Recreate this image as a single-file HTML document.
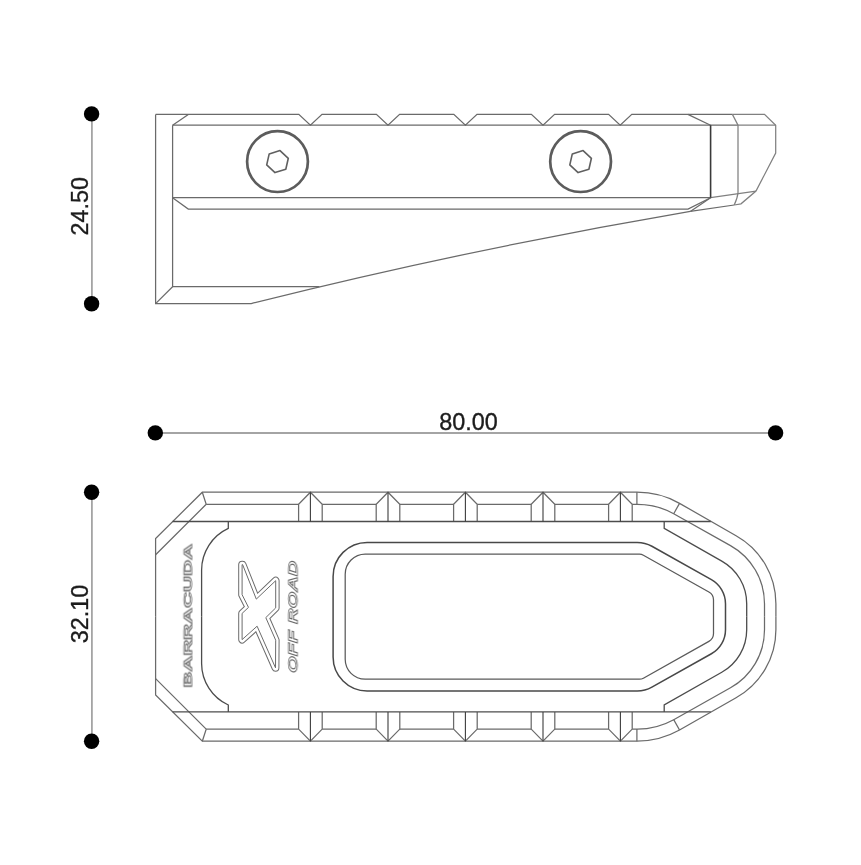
<!DOCTYPE html>
<html><head><meta charset="utf-8"><title>Footpeg drawing</title>
<style>html,body{margin:0;padding:0;background:#fff}svg{display:block}</style></head>
<body><svg width="861" height="865" viewBox="0 0 861 865">
<rect width="861" height="865" fill="#fff"/>
<g fill="none" stroke="#6a6a6a" stroke-width="1.25">
<path d="M155.6,114.4 L298.79999999999995,114.4 L310.4,125.2 L322.0,114.4 L376.4,114.4 L388.0,125.2 L399.6,114.4 L453.79999999999995,114.4 L465.4,125.2 L477.0,114.4 L531.4,114.4 L543.0,125.2 L554.6,114.4 L608.6,114.4 L620.2,125.2 L631.8000000000001,114.4 L732.4,114.4"/>
<path d="M734.2,205.0 L690.3,211.4"/>
<path d="M690.3,211.4 Q467,249.5 251.2,303.6 L155.6,303.6 L155.6,114.4"/>
<path d="M172.6,125.2 L738.0,125.2"/>
<path d="M172.6,125.2 L188.3,114.4"/>
<path d="M172.6,125.2 L172.6,286.7 L155.6,303.6"/>
<path d="M172.6,286.7 L319.4,286.7"/>
<path d="M172.6,197.7 L710.6,197.7"/>
<path d="M172.6,197.7 L188.3,209.0 L688.0,209.0 L710.6,197.7"/>
<path d="M690.3,211.4 L710.6,197.7"/>
<path d="M687.9,114.4 L710.6,125.2"/>
</g>
<g fill="none" stroke="#808080" stroke-width="1.25">
<path d="M732.4,114.4 L764.5,114.4 L775.7,125.2 L775.7,153 L756.0,191.1 L741.0,203.8 L734.2,205.0"/>
<path d="M732.4,114.4 L738.0,125.2 L738.0,192.5 Q737.6,198 734.2,205.0"/>
<path d="M738.0,125.2 L775.7,125.2"/>
<path d="M710.6,197.7 L756.0,191.1"/>
</g>
<path d="M710.6,125.2 L710.6,197.7" stroke="#3a3a3a" stroke-width="1.6" fill="none"/>
<circle cx="277.5" cy="161.6" r="30.4" fill="none" stroke="#5c5c5c" stroke-width="2.7"/>
<polygon points="288.3,158.3 285.8,169.3 275.0,172.6 266.7,164.9 269.2,153.9 280.0,150.6" fill="none" stroke="#606060" stroke-width="1.6" stroke-linejoin="round"/>
<circle cx="580.6" cy="161.6" r="30.4" fill="none" stroke="#5c5c5c" stroke-width="2.7"/>
<polygon points="591.4,158.3 588.9,169.3 578.1,172.6 569.8,164.9 572.3,153.9 583.1,150.6" fill="none" stroke="#606060" stroke-width="1.6" stroke-linejoin="round"/>
<path d="M91.9,113.9 L91.9,303.8 M91.9,492.2 L91.9,741.2 M155.3,433 L775.6,433" stroke="#a4a4a4" stroke-width="1.8" fill="none"/>
<circle cx="91.6" cy="113.9" r="7.7" fill="#000"/>
<circle cx="91.6" cy="303.8" r="7.7" fill="#000"/>
<circle cx="91.6" cy="492.2" r="7.7" fill="#000"/>
<circle cx="91.6" cy="741.2" r="7.7" fill="#000"/>
<circle cx="155.3" cy="432.9" r="7.7" fill="#000"/>
<circle cx="775.6" cy="432.9" r="7.7" fill="#000"/>
<g opacity="0.99">
<text x="468.4" y="429.5" text-anchor="middle" font-family="Liberation Sans, Arial, sans-serif" font-size="23.4" fill="#1a1a1a" stroke="#1a1a1a" stroke-width="0.35">80.00</text>
<text transform="translate(87.8,206.2) rotate(-90)" text-anchor="middle" font-family="Liberation Sans, Arial, sans-serif" font-size="23.4" fill="#1a1a1a" stroke="#1a1a1a" stroke-width="0.35">24.50</text>
<text transform="translate(87.8,614) rotate(-90)" text-anchor="middle" font-family="Liberation Sans, Arial, sans-serif" font-size="23.4" fill="#1a1a1a" stroke="#1a1a1a" stroke-width="0.35">32.10</text>
</g>
<g fill="none" stroke="#6a6a6a" stroke-width="1.25">
<path d="M155.60,616.70 L155.60,538.50 L202.30,492.20 L636.90,492.20 A87.1,87.1 0 0 1 679.53,503.34 L736.07,535.68 A78.0,78.0 0 0 1 775.90,603.70 L775.90,616.70"/>
<path d="M206.20,504.30 L298.60,504.30"/>
<path d="M322.20,504.30 L376.20,504.30"/>
<path d="M399.80,504.30 L453.60,504.30"/>
<path d="M477.20,504.30 L531.20,504.30"/>
<path d="M554.80,504.30 L608.60,504.30"/>
<path d="M632.20,504.30 L636.90,504.30 A75.2,75.2 0 0 1 673.70,513.72 L730.49,545.62 A66.6,66.6 0 0 1 764.50,603.70 L764.50,616.70"/>
<path d="M679.53,503.34 L673.70,513.72"/>
<path d="M636.90,492.20 L636.90,504.30"/>
<path d="M298.60,521.50 L298.60,504.30 L310.40,492.20 L322.20,504.30 L322.20,521.50"/>
<path d="M376.20,521.50 L376.20,504.30 L388.00,492.20 L399.80,504.30 L399.80,521.50"/>
<path d="M453.60,521.50 L453.60,504.30 L465.40,492.20 L477.20,504.30 L477.20,521.50"/>
<path d="M531.20,521.50 L531.20,504.30 L543.00,492.20 L554.80,504.30 L554.80,521.50"/>
<path d="M608.60,521.50 L608.60,504.30 L620.40,492.20 L632.20,504.30 L632.20,521.50"/>
<path d="M202.30,492.20 L206.20,504.30 L155.60,554.80"/>
<path d="M155.60,616.70 L155.60,694.90 L202.30,741.20 L636.90,741.20 A87.1,87.1 0 0 0 679.53,730.06 L736.07,697.72 A78.0,78.0 0 0 0 775.90,629.70 L775.90,616.70"/>
<path d="M206.20,729.10 L298.60,729.10"/>
<path d="M322.20,729.10 L376.20,729.10"/>
<path d="M399.80,729.10 L453.60,729.10"/>
<path d="M477.20,729.10 L531.20,729.10"/>
<path d="M554.80,729.10 L608.60,729.10"/>
<path d="M632.20,729.10 L636.90,729.10 A75.2,75.2 0 0 0 673.70,719.68 L730.49,687.78 A66.6,66.6 0 0 0 764.50,629.70 L764.50,616.70"/>
<path d="M679.53,730.06 L673.70,719.68"/>
<path d="M636.90,741.20 L636.90,729.10"/>
<path d="M298.60,711.90 L298.60,729.10 L310.40,741.20 L322.20,729.10 L322.20,711.90"/>
<path d="M376.20,711.90 L376.20,729.10 L388.00,741.20 L399.80,729.10 L399.80,711.90"/>
<path d="M453.60,711.90 L453.60,729.10 L465.40,741.20 L477.20,729.10 L477.20,711.90"/>
<path d="M531.20,711.90 L531.20,729.10 L543.00,741.20 L554.80,729.10 L554.80,711.90"/>
<path d="M608.60,711.90 L608.60,729.10 L620.40,741.20 L632.20,729.10 L632.20,711.90"/>
<path d="M202.30,741.20 L206.20,729.10 L155.60,678.60"/>
<path d="M365.2,554.2 L639.48,554.20 A8,8 0 0 1 643.39,555.22 L708.90,591.99 A9,9 0 0 1 713.50,599.84 L713.50,633.56 A9,9 0 0 1 708.90,641.41 L643.39,678.18 A8,8 0 0 1 639.48,679.2 L365.2,679.2 A20,20 0 0 1 345.2,659.2 L345.2,574.2 A20,20 0 0 1 365.2,554.2 Z" stroke="#5a5a5a"/>
</g>
<path d="M367.1,542.4 L637.22,542.40 A30,30 0 0 1 651.90,546.24 L711.41,579.63 A27.6,27.6 0 0 1 725.50,603.70 L725.50,629.70 A27.6,27.6 0 0 1 711.41,653.77 L651.90,687.16 A30,30 0 0 1 637.22,691.0000000000001 L367.1,691.0000000000001 A34,34 0 0 1 333.1,657.0000000000001 L333.1,576.4 A34,34 0 0 1 367.1,542.4 Z" fill="none" stroke="#484848" stroke-width="1.5"/>
<g fill="none" stroke="#4c4c4c" stroke-width="1.3">
<path d="M172.60,521.50 L710.81,521.50"/>
<path d="M228.30,521.50 L228.30,528.40 A46,46 0 0 0 201.60,570.00 L201.60,616.70"/>
<path d="M664.20,521.50 L664.20,528.40 L721.78,561.14 A48.8,48.8 0 0 1 746.70,603.70 L746.70,616.70"/>
<path d="M172.60,711.90 L710.81,711.90"/>
<path d="M228.30,711.90 L228.30,705.00 A46,46 0 0 1 201.60,663.40 L201.60,616.70"/>
<path d="M664.20,711.90 L664.20,705.00 L721.78,672.26 A48.8,48.8 0 0 0 746.70,629.70 L746.70,616.70"/>
</g>
<g stroke="#3c3c3c" stroke-width="1.1" fill="none">
<path d="M310.4,492.2 L310.4,521.5 M310.4,741.2 L310.4,711.9000000000001"/>
<path d="M388.0,492.2 L388.0,521.5 M388.0,741.2 L388.0,711.9000000000001"/>
<path d="M465.4,492.2 L465.4,521.5 M465.4,741.2 L465.4,711.9000000000001"/>
<path d="M543.0,492.2 L543.0,521.5 M543.0,741.2 L543.0,711.9000000000001"/>
<path d="M620.4,492.2 L620.4,521.5 M620.4,741.2 L620.4,711.9000000000001"/>
</g>
<polygon points="242.1,564.6 242.6,564.6 256.3,599.1 275.7,580.7 275.7,607.9 265.8,617.6 275.7,640.2 275.5,667.8 257.1,626.2 242.1,639.6 242.1,613.4 248.5,607.4 242.1,594.7" fill="none" stroke="#6c6c6c" stroke-width="7.8" stroke-linejoin="round"/>
<polygon points="242.1,564.6 242.6,564.6 256.3,599.1 275.7,580.7 275.7,607.9 265.8,617.6 275.7,640.2 275.5,667.8 257.1,626.2 242.1,639.6 242.1,613.4 248.5,607.4 242.1,594.7" fill="#fff" stroke="#fff" stroke-width="5.8" stroke-linejoin="round"/>
<polygon points="242.1,564.6 242.6,564.6 256.3,599.1 275.7,580.7 275.7,607.9 265.8,617.6 275.7,640.2 275.5,667.8 257.1,626.2 242.1,639.6 242.1,613.4 248.5,607.4 242.1,594.7" fill="#fff" stroke="#6c6c6c" stroke-width="1" stroke-linejoin="miter"/>
<g opacity="0.99">
<text transform="translate(191.7,687.6) rotate(-90)" font-family="Liberation Sans, Arial, sans-serif" font-size="11.2" font-weight="bold" fill="#fff" stroke="#646464" stroke-width="0.75" textLength="143.6" lengthAdjust="spacingAndGlyphs">BARRACUDA</text>
<text transform="translate(297.3,673.0) rotate(-90)" font-family="Liberation Sans, Arial, sans-serif" font-size="13.4" font-style="italic" font-weight="bold" fill="#fff" stroke="#646464" stroke-width="0.75" textLength="112.2" lengthAdjust="spacingAndGlyphs">OFF ROAD</text>
</g>
</svg></body></html>
